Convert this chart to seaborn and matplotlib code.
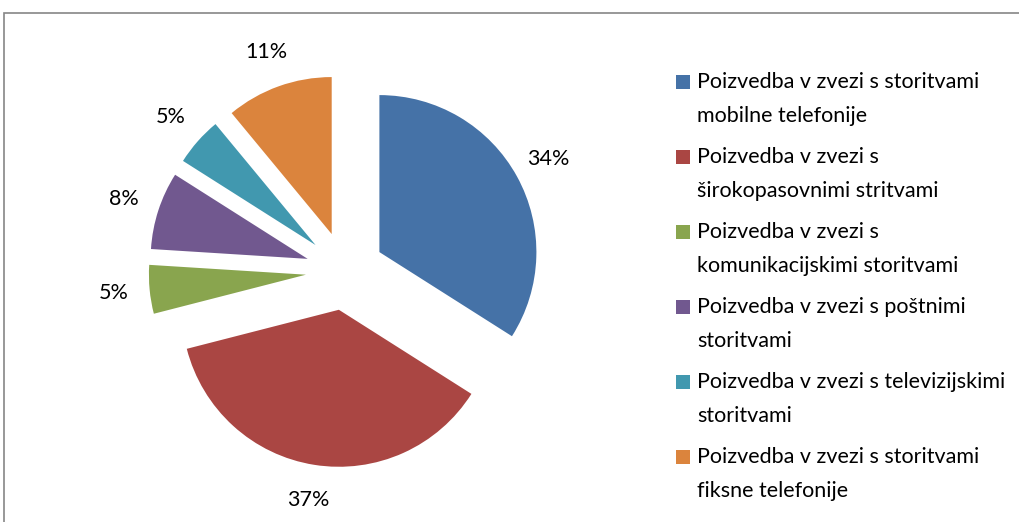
import matplotlib
matplotlib.use("Agg")
import matplotlib.pyplot as plt
import matplotlib.patches as mpatches
import seaborn as sns

# podatki
kategorije = [
    "Poizvedba v zvezi s storitvami\nmobilne telefonije",
    "Poizvedba v zvezi s\nširokopasovnimi stritvami",
    "Poizvedba v zvezi s\nkomunikacijskimi storitvami",
    "Poizvedba v zvezi s poštnimi\nstoritvami",
    "Poizvedba v zvezi s televizijskimi\nstoritvami",
    "Poizvedba v zvezi s storitvami\nfiksne telefonije",
]
deleži = [34, 37, 5, 8, 5, 11]
barve = ["#4572A7", "#AA4643", "#89A54E", "#71588F", "#4198AF", "#DB843D"]

sns.set_theme(style="white")
plt.rcParams["font.family"] = ["Lato", "DejaVu Sans"]

W, H = 1019, 522
fig = plt.figure(figsize=(W / 100, H / 100), dpi=100)

# okvir grafa (gre čez desni in spodnji rob)
okvir = mpatches.Rectangle((3.5 / W, -0.1), 1.2, (H - 12.5) / H + 0.1,
                           transform=fig.transFigure, fill=False,
                           edgecolor="#868686", linewidth=1.2)
fig.patches.append(okvir)

# torta: središče (345, 271) px, polmer 157 px
r = 157
cx, cy = 345, 271
half = 200
ax = fig.add_axes([(cx - half) / W, (H - cy - half) / H, 2 * half / W, 2 * half / H])
ax.pie(deleži, colors=sns.color_palette(barve), startangle=90, counterclock=False,
       explode=[0.25] * len(deleži), radius=1,
       autopct=lambda p: "{:.0f}%".format(p), pctdistance=1.23,
       wedgeprops=dict(linewidth=0),
       textprops=dict(fontsize=15.5, color="#000000"))
ax.set_xlim(-half / r, half / r)
ax.set_ylim(-half / r, half / r)
ax.set_aspect("equal")
ax.axis("off")

# legenda
y0 = 82
for i, (k, b) in enumerate(zip(kategorije, barve)):
    y = y0 + 75 * i
    kv = mpatches.Rectangle((676 / W, (H - y - 7) / H), 14 / W, 14 / H,
                            transform=fig.transFigure, facecolor=b, edgecolor="none")
    fig.patches.append(kv)
    fig.text(697 / W, (H - y + 10) / H, k, fontsize=15.5, color="#000000",
             va="top", ha="left", linespacing=1.86)

fig.savefig("out.png", dpi=100)
